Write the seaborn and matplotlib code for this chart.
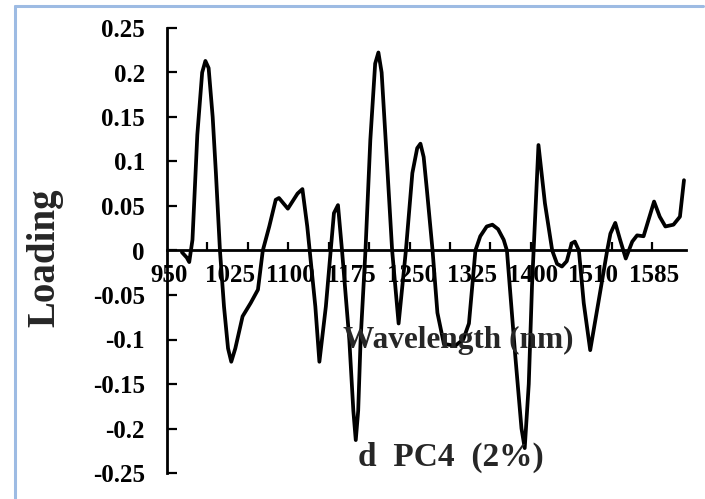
import numpy as np
import pandas as pd
import matplotlib
matplotlib.use("Agg")
import matplotlib.pyplot as plt
import seaborn as sns
from matplotlib.lines import Line2D

# ---- data ----
wavelength = [966, 972, 975, 979, 985, 991, 995, 999, 1004, 1008, 1013, 1018, 1023, 1027,
              1032, 1041, 1051, 1060, 1066, 1074, 1082, 1086, 1097, 1109, 1115, 1121, 1124,
              1131, 1136, 1144, 1150, 1154, 1159, 1164, 1173, 1178, 1181, 1184, 1187, 1193,
              1199, 1205, 1209, 1213, 1218, 1226, 1234, 1243, 1251, 1257, 1261, 1265, 1269,
              1276, 1282, 1290, 1304, 1314, 1321, 1329, 1335, 1343, 1350, 1357, 1364, 1368,
              1378, 1386, 1390, 1395, 1399, 1401, 1407, 1415, 1424, 1430, 1436, 1442, 1448,
              1452, 1457, 1463, 1471, 1481, 1492, 1496, 1502, 1508, 1515, 1523, 1529, 1537,
              1543, 1550, 1557, 1564, 1574, 1582, 1587]
loading = [-0.002, -0.008, -0.013, 0.012, 0.13, 0.2, 0.213, 0.205, 0.15, 0.087, 0.0, -0.063,
           -0.11, -0.125, -0.11, -0.074, -0.059, -0.044, 0.0, 0.027, 0.057, 0.059, 0.047,
           0.064, 0.069, 0.027, 0.0, -0.063, -0.125, -0.063, 0.0, 0.042, 0.051, 0.0, -0.1,
           -0.18, -0.213, -0.18, -0.1, 0.0, 0.124, 0.21, 0.2225, 0.2, 0.124, 0.0, -0.082,
           0.0, 0.087, 0.115, 0.12, 0.105, 0.068, 0.0, -0.07, -0.105, -0.107, -0.1, -0.082,
           0.0, 0.016, 0.027, 0.029, 0.024, 0.012, 0.0, -0.115, -0.2, -0.222, -0.15, -0.04,
           0.0, 0.1185, 0.053, 0.0, -0.015, -0.018, -0.012, 0.008, 0.01, 0.0, -0.059, -0.112,
           -0.059, 0.0, 0.019, 0.031, 0.012, -0.009, 0.010, 0.017, 0.016, 0.034, 0.055,
           0.038, 0.027, 0.029, 0.038, 0.079]
x_tick_labels = ["950", "1025", "1100", "1175", "1250", "1325", "1400", "1510", "1585"]
y_ticks = [-0.25, -0.2, -0.15, -0.1, -0.05, 0, 0.05, 0.1, 0.15, 0.2, 0.25]
x_label = "Wavelength (nm)"
y_label = "Loading"
panel_label = "d  PC4  (2%)"

df = pd.DataFrame({"wavelength": wavelength, "loading": loading})

sns.set_style("white")
plt.rcParams["font.family"] = ["Liberation Serif", "DejaVu Serif"]
plt.rcParams["font.weight"] = "bold"

W, H = 705, 499
fig = plt.figure(figsize=(W / 100, H / 100), dpi=100)
ax = fig.add_axes([167 / W, 1 - 473 / H, (686 - 167) / W, (473 - 28) / H])

sns.lineplot(data=df, x="wavelength", y="loading", ax=ax, color="black",
             linewidth=2.7, sort=False, estimator=None)
for ln in ax.lines:
    ln.set_solid_joinstyle("round")
    ln.set_solid_capstyle("round")

ax.set_xlim(947.5, 1589.5)
ax.set_ylim(-0.25, 0.25)

# spines
for s in ["top", "right"]:
    ax.spines[s].set_visible(False)
ax.spines["bottom"].set_position(("data", 0))
ax.spines["bottom"].set_linewidth(2.0)
ax.spines["left"].set_linewidth(2.0)
ax.spines["bottom"].set_color("black")
ax.spines["left"].set_color("black")

# x ticks: labels every 75 (nominal), tick marks every 50
label_pos = [950 + 75 * i for i in range(len(x_tick_labels))]
ax.set_xticks(label_pos)
ax.set_xticklabels(x_tick_labels, fontsize=18, fontweight="bold")
ax.set_xticks([947.5 + 50 * k for k in range(1, 13)], minor=True)
ax.tick_params(axis="x", which="both", bottom=True)
ax.tick_params(axis="x", which="major", length=0, pad=10, colors="black")
ax.tick_params(axis="x", which="minor", direction="in", length=6, width=1.6, color="black")

ax.set_yticks(y_ticks)
ax.set_yticklabels([f"{v:g}" for v in y_ticks], fontsize=18, fontweight="bold")
ax.tick_params(axis="y", which="major", left=True, direction="in", length=7, width=1.6,
               pad=16, colors="black")

ax.set_xlabel("")
ax.set_ylabel("")

fig.text(458 / W, 1 - 348 / H, x_label, ha="center", va="baseline",
         fontsize=22.5, fontweight="bold")
fig.text(45 / W, 1 - 258 / H, y_label, ha="center", va="center", rotation=90,
         fontsize=28, fontweight="bold")
fig.text(451 / W, 1 - 466 / H, panel_label, ha="center", va="baseline",
         fontsize=24, fontweight="bold")

# light blue frame of the picture
frame_color = "#9dbbe3"
fig.add_artist(Line2D([15 / W, 15 / W], [1 - 6 / H, 0], transform=fig.transFigure,
                      color=frame_color, lw=2.2))
fig.add_artist(Line2D([15 / W, 703 / W], [1 - 6 / H, 1 - 6 / H], transform=fig.transFigure,
                      color=frame_color, lw=2.2))

fig.savefig("out.png", dpi=100)
